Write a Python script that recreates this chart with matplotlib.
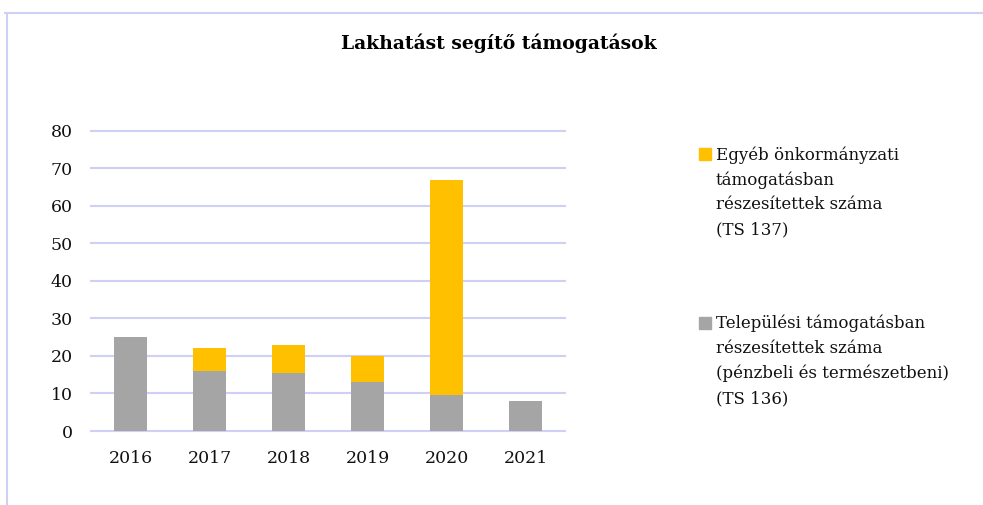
import matplotlib.pyplot as plt
from matplotlib.patches import Rectangle
from matplotlib.lines import Line2D

# adatok
evek = ['2016', '2017', '2018', '2019', '2020', '2021']
telepulesi = [25, 16, 15.5, 13, 9.7, 8]
egyeb = [0, 6, 7.5, 7, 57.2, 0]

label_egyeb = 'Egyéb önkormányzati\ntámogatásban\nrészesítettek száma\n(TS 137)'
label_telep = 'Települési támogatásban\nrészesítettek száma\n(pénzbeli és természetbeni)\n(TS 136)'

szurke = '#A5A5A5'
sarga = '#FFC000'
racs = '#D0D0F7'

plt.rcParams['font.family'] = ['DejaVu Serif']

fig = plt.figure(figsize=(9.83, 5.05), dpi=100)
ax = fig.add_axes([91/983, 1 - 431/505, 474/983, 300.5/505])

x = list(range(len(evek)))
ax.bar(x, telepulesi, width=0.43, color=szurke, zorder=3)
ax.bar(x, egyeb, width=0.43, bottom=telepulesi, color=sarga, zorder=3)

ax.set_xlim(-0.5, len(evek) - 0.5)
ax.set_ylim(0, 80)
ax.set_yticks(range(0, 81, 10))
ax.set_xticks(x)
ax.set_xticklabels(evek)
ax.tick_params(length=0, labelsize=12.5, colors='#111111')
ax.tick_params(axis='y', pad=13)
ax.tick_params(axis='x', pad=14)
ax.grid(axis='y', color=racs, linewidth=1.5, zorder=0)
for g in ax.get_ygridlines():
    g.set_clip_on(False)
for s in ax.spines.values():
    s.set_visible(False)

# cim
fig.text(499/983, 1 - 43/505, 'Lakhatást segítő támogatások', ha='center', va='center',
         fontsize=13.5, fontweight='bold')

# keret
fig.add_artist(Line2D([5/983, 1.01], [1 - 13/505, 1 - 13/505], color=racs, linewidth=1.5))
fig.add_artist(Line2D([7/983, 7/983], [0, 1 - 13/505], color=racs, linewidth=1.5))

# jelmagyarazat
def jelmagyarazat(ypx, szin, szoveg):
    fig.add_artist(Rectangle((699/983, 1 - (ypx + 6)/505), 12/983, 12/505,
                             transform=fig.transFigure, color=szin))
    fig.text(716/983, 1 - (ypx - 8)/505, szoveg, ha='left', va='top',
             fontsize=12, linespacing=1.58, color='#111111')

jelmagyarazat(154, sarga, label_egyeb)
jelmagyarazat(323, szurke, label_telep)

fig.savefig('out.png', dpi=100)
